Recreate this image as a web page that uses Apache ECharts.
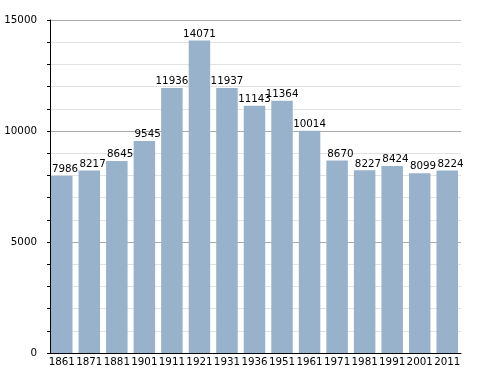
<!DOCTYPE html>
<html><head><meta charset="utf-8">
<script src="https://cdn.jsdelivr.net/npm/echarts@6/dist/echarts.min.js"></script>
<style>html,body{margin:0;padding:0;background:#fff}#c{width:488px;height:373px}</style>
</head><body><div id="c"></div>
<script>
const categories = ['1861','1871','1881','1901','1911','1921','1931','1936','1951','1961','1971','1981','1991','2001','2011'];
const population = [7986, 8217, 8645, 9545, 11936, 14071, 11937, 11143, 11364, 10014, 8670, 8227, 8424, 8099, 8224];
const yTicks = [0, 5000, 10000, 15000];

const chart = echarts.init(document.getElementById('c'), null, {renderer: 'canvas'});
const font = '"DejaVu Sans", sans-serif';
chart.setOption({
  animation: false,
  backgroundColor: '#fff',
  grid: {left: 48, right: 27, top: 20, bottom: 20, containLabel: false},
  xAxis: {
    type: 'category',
    data: categories,
    axisLine: {lineStyle: {color: '#000', width: 1}},
    axisTick: {show: false},
    axisLabel: {color: '#000', fontFamily: font, fontSize: 10.3, margin: 4, interval: 0}
  },
  yAxis: {
    type: 'value',
    min: yTicks[0], max: yTicks[yTicks.length - 1], interval: 5000,
    offset: -2,
    axisLine: {show: true, lineStyle: {color: '#000', width: 1}},
    axisTick: {show: true, length: 3, lineStyle: {color: '#000'}},
    minorTick: {show: true, splitNumber: 5, length: 3, lineStyle: {color: '#000'}},
    splitLine: {show: true, lineStyle: {color: '#aaaaaa', width: 1}},
    minorSplitLine: {show: true, lineStyle: {color: '#e2e2e2', width: 1}},
    axisLabel: {color: '#000', fontFamily: font, fontSize: 10.3, margin: 13, formatter: v => String(v)}
  },
  series: [{
    type: 'bar',
    data: population,
    barWidth: 21.5,
    itemStyle: {color: '#98b2cb'},
    label: {show: true, position: 'top', distance: 1.5, align: 'right', offset: [16.4, 0], color: '#000', fontFamily: font, fontSize: 10.3}
  }]
});
</script></body></html>
